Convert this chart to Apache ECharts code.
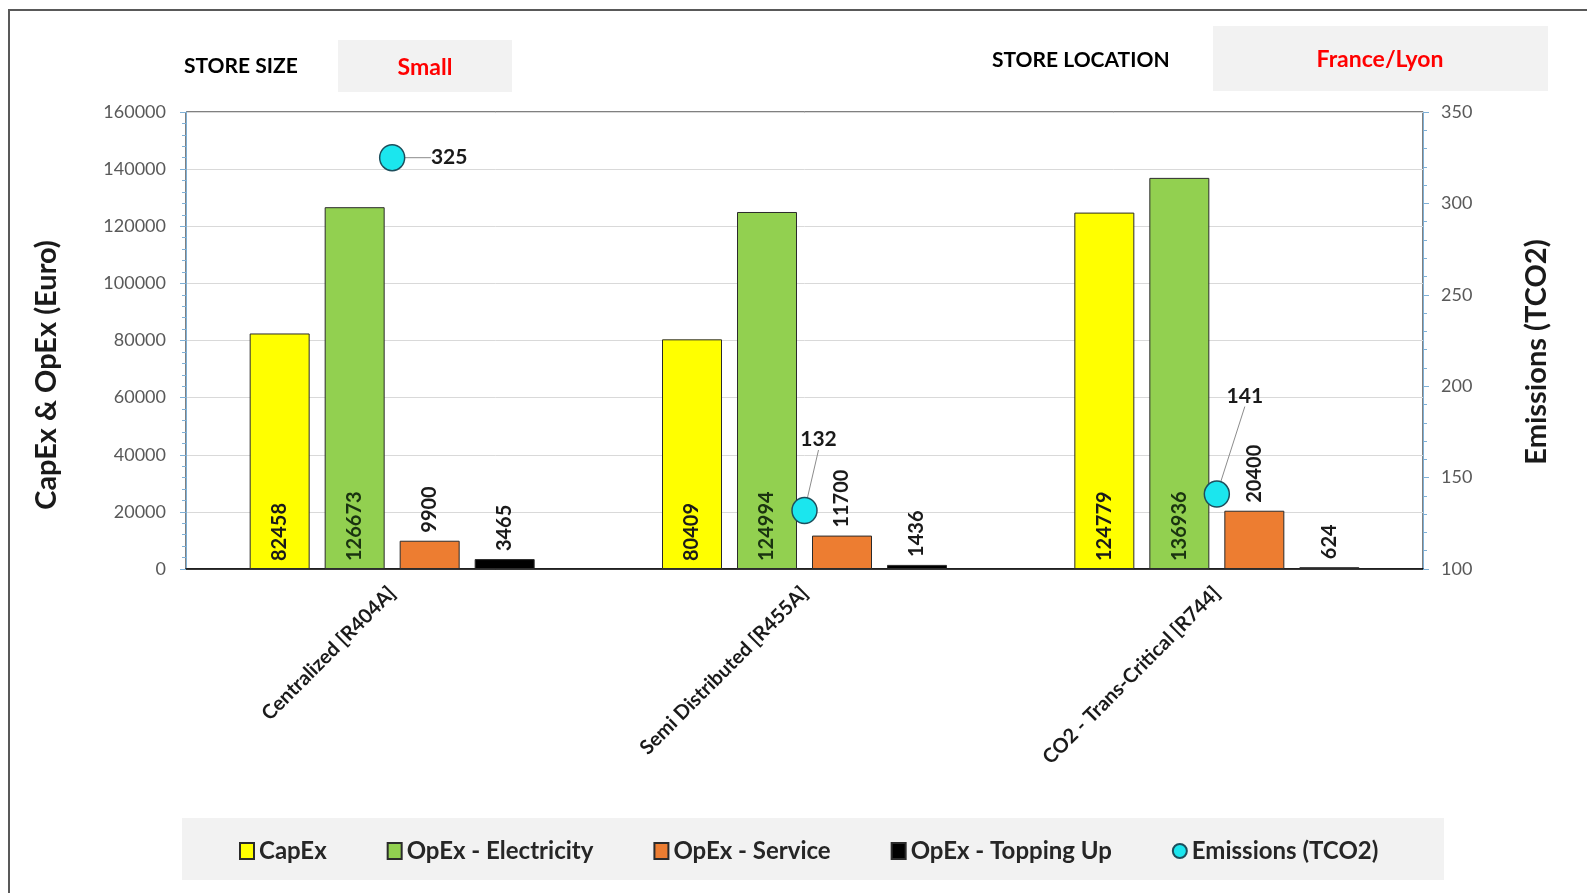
<!DOCTYPE html>
<html><head><meta charset="utf-8">
<script src="https://cdn.jsdelivr.net/npm/echarts@6/dist/echarts.min.js"></script>
<style>html,body{margin:0;padding:0;background:#fff}#c{width:1587px;height:893px}</style>
</head><body><div id="c"></div>
<script>
const categories = ['Centralized [R404A]', 'Semi Distributed [R455A]', 'CO2 - Trans-Critical [R744]'];
const capex = [82458, 80409, 124779];
const opexElectricity = [126673, 124994, 136936];
const opexService = [9900, 11700, 20400];
const opexToppingUp = [3465, 1436, 624];
const emissions = [325, 132, 141];
const seriesNames = ['CapEx', 'OpEx - Electricity', 'OpEx - Service', 'OpEx - Topping Up', 'Emissions (TCO2)'];
const leftAxisTitle = 'CapEx & OpEx (Euro)';
const rightAxisTitle = 'Emissions (TCO2)';
const storeSize = 'Small';
const storeLocation = 'France/Lyon';

const FONT = 'Lato';
const emissionLabelShift = [[57, 0], [14, -71], [28, -98]];

const chart = echarts.init(document.getElementById('c'), null, {renderer: 'canvas'});

function bar(name, data, color, inside, labelColor) {
  return {
    name: name, type: 'bar', data: data, yAxisIndex: 0,
    barWidth: 60, barGap: '25%',
    itemStyle: {color: color, borderColor: '#2b2b2b', borderWidth: 1},
    label: {
      show: true, rotate: 90,
      position: inside ? 'insideBottom' : 'top',
      align: 'left', verticalAlign: 'middle',
      distance: 8,
      color: labelColor, fontFamily: FONT, fontWeight: 'bold', fontSize: 20
    }
  };
}

chart.setOption({
  animation: false,
  backgroundColor: '#fff',
  grid: {left: 186, right: 164, top: 112, bottom: 324, show: true, borderColor: '#000', borderWidth: 1},
  graphic: [
    {type: 'rect', z: -10, shape: {x: 9, y: 10, width: 1640, height: 950}, style: {fill: '#fff', stroke: '#595959', lineWidth: 2}},
    {type: 'rect', z: -5, shape: {x: 338, y: 40, width: 174, height: 52}, style: {fill: '#f2f2f2'}},
    {type: 'rect', z: -5, shape: {x: 1213, y: 26, width: 335, height: 65}, style: {fill: '#f2f2f2'}},
    {type: 'rect', z: -5, shape: {x: 182, y: 818, width: 1262, height: 62}, style: {fill: '#f2f2f2'}},
    {type: 'text', x: 184, y: 66, style: {text: 'STORE SIZE', font: 'bold 21px ' + FONT, fill: '#000', textVerticalAlign: 'middle'}},
    {type: 'text', x: 425, y: 68, style: {text: storeSize, font: 'bold 23px ' + FONT, fill: '#ff0000', textAlign: 'center', textVerticalAlign: 'middle'}},
    {type: 'text', x: 992, y: 60, style: {text: 'STORE LOCATION', font: 'bold 21px ' + FONT, fill: '#000', textVerticalAlign: 'middle'}},
    {type: 'text', x: 1380, y: 60, style: {text: storeLocation, font: 'bold 23px ' + FONT, fill: '#ff0000', textAlign: 'center', textVerticalAlign: 'middle'}},
    {type: 'text', x: 47, y: 375, rotation: Math.PI / 2, style: {text: leftAxisTitle, font: 'bold 29px ' + FONT, fill: '#1a1a1a', textAlign: 'center', textVerticalAlign: 'middle'}},
    {type: 'text', x: 1537, y: 352, rotation: Math.PI / 2, style: {text: rightAxisTitle, font: 'bold 29px ' + FONT, fill: '#1a1a1a', textAlign: 'center', textVerticalAlign: 'middle'}}
  ],
  legend: {
    left: 234, top: 834, itemGap: 60, itemWidth: 14, itemHeight: 16,
    textStyle: {fontFamily: FONT, fontWeight: 'bold', fontSize: 24, color: '#262626'},
    data: [
      {name: seriesNames[0], icon: 'rect'},
      {name: seriesNames[1], icon: 'rect'},
      {name: seriesNames[2], icon: 'rect'},
      {name: seriesNames[3], icon: 'rect'},
      {name: seriesNames[4], icon: 'circle'}
    ]
  },
  xAxis: {
    type: 'category', data: categories,
    axisLine: {lineStyle: {color: '#000', width: 1.5}},
    axisTick: {show: false},
    axisLabel: {rotate: 45, fontFamily: FONT, fontSize: 20, fontWeight: 'bold', color: '#1a1a1a', margin: 21}
  },
  yAxis: [
    {
      type: 'value', min: 0, max: 160000, interval: 20000,
      axisLine: {show: true, lineStyle: {color: '#7fb0d6'}},
      axisTick: {show: true, length: 6, lineStyle: {color: '#7fb0d6'}},
      minorTick: {show: true, splitNumber: 5, length: 4, lineStyle: {color: '#7fb0d6'}},
      axisLabel: {fontFamily: FONT, fontSize: 18, color: '#595959', margin: 20, formatter: function (v) { return String(v); }},
      splitLine: {lineStyle: {color: '#d9d9d9'}}
    },
    {
      type: 'value', min: 100, max: 350, interval: 50, position: 'right',
      axisLine: {show: true, lineStyle: {color: '#7fb0d6'}},
      axisTick: {show: true, length: 6, lineStyle: {color: '#7fb0d6'}},
      minorTick: {show: true, splitNumber: 5, length: 4, lineStyle: {color: '#7fb0d6'}},
      axisLabel: {fontFamily: FONT, fontSize: 18, color: '#595959', margin: 18},
      splitLine: {show: false}
    }
  ],
  series: [
    bar(seriesNames[0], capex, '#ffff00', true, '#1a1a1a'),
    bar(seriesNames[1], opexElectricity, '#92d050', true, '#1a3310'),
    bar(seriesNames[2], opexService, '#ed7d31', false, '#1a1a1a'),
    bar(seriesNames[3], opexToppingUp, '#000000', false, '#1a1a1a'),
    {
      name: seriesNames[4], type: 'scatter', yAxisIndex: 1, data: emissions,
      symbol: 'circle', symbolSize: [25, 26], z: 5,
      itemStyle: {color: '#1be6ee', borderColor: '#1d4e5c', borderWidth: 1.5, opacity: 1},
      label: {show: true, position: 'inside', fontFamily: FONT, fontWeight: 'bold', fontSize: 21, color: '#1a1a1a'},
      labelLine: {show: true, lineStyle: {color: '#8c8c8c', width: 1}},
      labelLayout: function (p) {
        const s = emissionLabelShift[p.dataIndex];
        return {dx: s[0], dy: s[1]};
      }
    }
  ]
});
</script></body></html>
